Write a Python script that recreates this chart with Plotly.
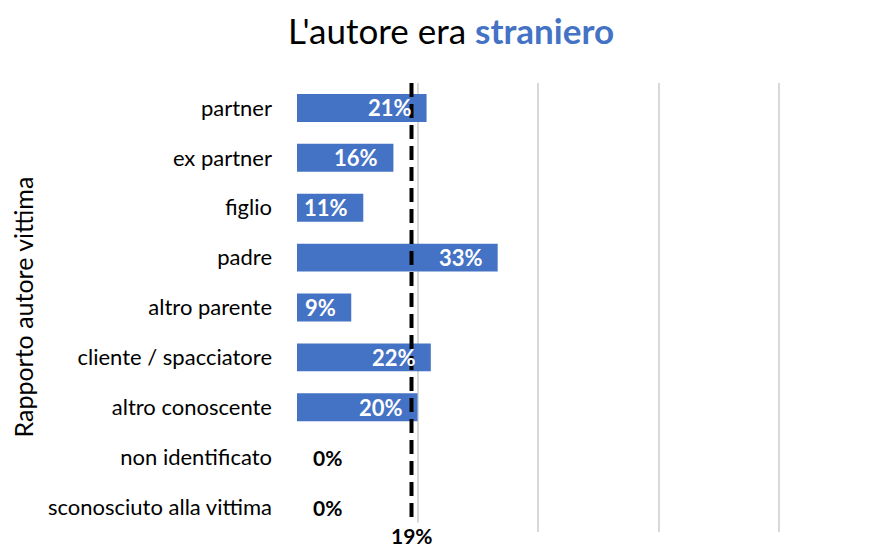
import plotly.graph_objects as go

categories = ["partner", "ex partner", "figlio", "padre", "altro parente",
              "cliente / spacciatore", "altro conoscente", "non identificato",
              "sconosciuto alla vittima"]
values = [21.5, 16, 11, 33.3, 9, 22.2, 20, 0, 0]
labels = ["21%", "16%", "11%", "33%", "9%", "22%", "20%", "0%", "0%"]
average_value = 19
average_label = "19%"
x_ticks = [0, 20, 40, 60, 80]

FONT = "Lato"
BLUE = "#4472C4"

fig = go.Figure()
fig.add_trace(go.Bar(
    y=categories, x=values, orientation="h",
    marker=dict(color=BLUE, line=dict(width=0)),
    width=0.56,
    hoverinfo="skip",
))

for c, v, t in zip(categories, values, labels):
    if v > 0:
        fig.add_annotation(x=v, y=c, xref="x", yref="y", text="<b>" + t + "</b>",
                           showarrow=False, xanchor="right", xshift=-13,
                           font=dict(family=FONT, size=22, color="white"))
    else:
        fig.add_annotation(x=v, y=c, xref="x", yref="y", text="<b>" + t + "</b>",
                           showarrow=False, xanchor="left", xshift=14,
                           font=dict(family=FONT, size=21, color="black"))

fig.add_shape(type="line", xref="x", yref="paper",
              x0=average_value, x1=average_value, y0=1.0, y1=-0.01,
              line=dict(color="black", width=4, dash="14px,7px"))
fig.add_annotation(x=average_value, xref="x", y=-0.038, yref="paper",
                   text="<b>" + average_label + "</b>", showarrow=False,
                   yanchor="bottom", bgcolor="white", borderpad=0,
                   font=dict(family=FONT, size=21, color="black"))

fig.add_annotation(x=(22 - 297) / 593, xref="paper", y=0.5, yref="paper",
                   text="Rapporto autore vittima", textangle=-90, showarrow=False,
                   xanchor="center", yanchor="middle",
                   font=dict(family=FONT, size=25, color="black"))

fig.update_layout(
    width=890, height=550,
    margin=dict(l=289, r=8, t=75, b=26),
    paper_bgcolor="white", plot_bgcolor="white",
    showlegend=False,
    title=dict(
        text="L'autore era <b><span style='color:%s'>straniero</span></b>" % BLUE,
        x=(451 - 8) / 890, xanchor="center", y=1 - (32 - 8) / 550, yanchor="middle",
        xref="container", yref="container",
        font=dict(family=FONT, size=35, color="black"),
    ),
)
fig.update_xaxes(range=[0, 98.4], tickvals=x_ticks, showticklabels=False,
                 showgrid=True, gridcolor="#D9D9D9", gridwidth=1.5,
                 zeroline=False, showline=False)
fig.update_yaxes(categoryorder="array", categoryarray=categories,
                 autorange="reversed", showgrid=False, zeroline=False,
                 showline=False, ticklabelstandoff=24,
                 tickfont=dict(family=FONT, size=22, color="black"))

fig.write_html("out.html")
